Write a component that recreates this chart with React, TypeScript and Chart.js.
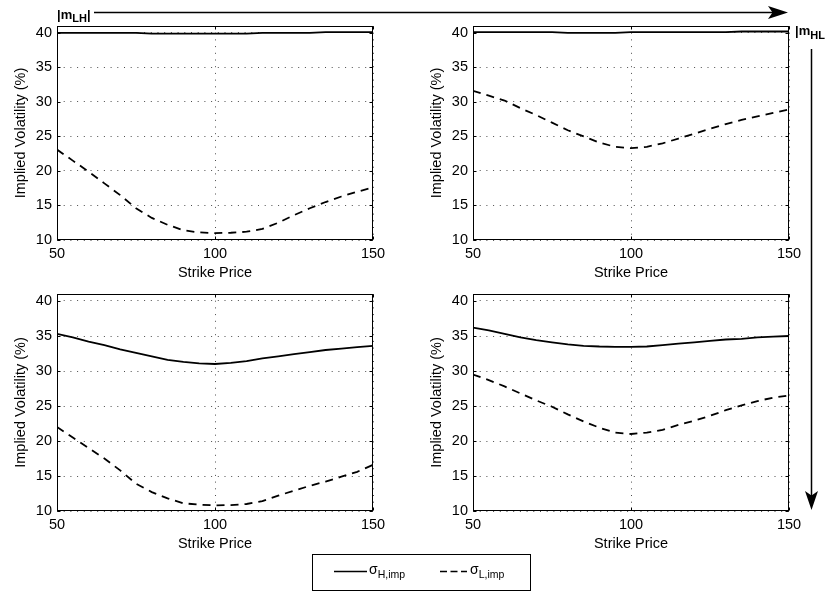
import React, { useEffect, useRef } from "react";
import { Chart, registerables } from "chart.js";

Chart.register(...registerables);

// Strike grid shared by all four panels
const strikes = [50, 55, 60, 65, 70, 75, 80, 85, 90, 95, 100, 105, 110, 115, 120, 125, 130, 135, 140, 145, 150];

// Tick labels
const xTicks = [50, 100, 150];
const yTicks = [10, 15, 20, 25, 30, 35, 40];

// Panel (1,1)
const highTL = [40.0, 40.0, 40.0, 40.0, 40.0, 40.0, 39.9, 39.9, 39.9, 39.9, 39.9, 39.9, 39.9, 40.0, 40.0, 40.0, 40.0, 40.1, 40.1, 40.1, 40.1];
const lowTL = [23.1, 21.5, 19.9, 18.2, 16.5, 14.6, 13.2, 12.2, 11.4, 11.1, 11.0, 11.05, 11.2, 11.6, 12.5, 13.6, 14.6, 15.5, 16.3, 17.0, 17.6];

// Panel (1,2)
const highTR = [40.1, 40.1, 40.1, 40.1, 40.1, 40.1, 40.0, 40.0, 40.0, 40.0, 40.1, 40.1, 40.1, 40.1, 40.1, 40.1, 40.1, 40.2, 40.2, 40.2, 40.2];
const lowTR = [31.6, 30.9, 30.2, 29.1, 28.1, 27.0, 25.9, 25.0, 24.1, 23.5, 23.3, 23.5, 24.0, 24.7, 25.4, 26.1, 26.8, 27.4, 27.9, 28.4, 28.9];

// Panel (2,1)
const highBL = [35.3, 34.8, 34.2, 33.7, 33.1, 32.6, 32.1, 31.6, 31.3, 31.1, 31.0, 31.15, 31.4, 31.8, 32.1, 32.4, 32.7, 33.0, 33.2, 33.4, 33.6];
const lowBL = [22.0, 20.5, 19.0, 17.5, 15.8, 13.9, 12.7, 11.8, 11.1, 10.9, 10.8, 10.85, 11.0, 11.4, 12.2, 12.9, 13.6, 14.2, 14.9, 15.6, 16.6];

// Panel (2,2)
const highBR = [36.2, 35.8, 35.3, 34.8, 34.4, 34.1, 33.8, 33.6, 33.5, 33.45, 33.45, 33.5, 33.7, 33.9, 34.1, 34.3, 34.5, 34.6, 34.8, 34.9, 35.0];
const lowBR = [29.5, 28.7, 27.8, 26.8, 25.8, 24.9, 23.8, 22.8, 21.9, 21.2, 21.0, 21.2, 21.6, 22.3, 22.9, 23.6, 24.4, 25.1, 25.7, 26.2, 26.5];

const FONT_FAMILY = "'Liberation Sans', Arial, Helvetica, sans-serif";
const Y_AXIS_W = 57;
const PLOT_W = 316;
const PAD_R = 18;
const PAD_T = 14;
const X_AXIS_H = 46;

// Box around the axes plus short inward tick marks on all four sides
const framePlugin = {
  id: "frame",
  afterDraw(chart: any) {
    const { ctx, chartArea: a, scales } = chart;
    const l = Math.round(a.left) + 0.5;
    const r = Math.round(a.right) - 0.5;
    const t = Math.round(a.top) + 0.5;
    const b = Math.round(a.bottom) - 0.5;
    ctx.save();
    ctx.strokeStyle = "#000";
    ctx.lineWidth = 1;
    ctx.setLineDash([]);
    ctx.strokeRect(l, t, r - l, b - t);
    ctx.beginPath();
    const tl = 3;
    for (const v of yTicks) {
      const py = Math.round(scales.y.getPixelForValue(v)) + 0.5;
      ctx.moveTo(l, py);
      ctx.lineTo(l + tl, py);
      ctx.moveTo(r, py);
      ctx.lineTo(r - tl, py);
    }
    for (const v of xTicks) {
      const px = Math.round(scales.x.getPixelForValue(v)) + 0.5;
      ctx.moveTo(px, b);
      ctx.lineTo(px, b - tl);
      ctx.moveTo(px, t);
      ctx.lineTo(px, t + tl);
    }
    ctx.stroke();
    ctx.restore();
  },
};

type PanelProps = { left: number; top: number; plotH: number; high: number[]; low: number[] };

function Panel({ left, top, plotH, high, low }: PanelProps) {
  const ref = useRef<HTMLCanvasElement>(null);
  const width = Y_AXIS_W + PLOT_W + PAD_R;
  const height = PAD_T + plotH + X_AXIS_H;

  useEffect(() => {
    const tickFont = { family: FONT_FAMILY, size: 14.5 };
    const gridColor = "rgba(0,0,0,0.7)";
    const chart = new Chart(ref.current as HTMLCanvasElement, {
      type: "line",
      data: {
        datasets: [
          {
            data: strikes.map((x, i) => ({ x, y: high[i] })),
            borderColor: "#000",
            borderWidth: 1.8,
            pointRadius: 0,
            tension: 0,
          },
          {
            data: strikes.map((x, i) => ({ x, y: low[i] })),
            borderColor: "#000",
            borderWidth: 1.8,
            borderDash: [8, 6],
            pointRadius: 0,
            tension: 0,
          },
        ],
      },
      options: {
        responsive: false,
        animation: false,
        devicePixelRatio: 1,
        events: [],
        layout: { padding: { left: 0, top: PAD_T, right: PAD_R, bottom: 0 } },
        plugins: { legend: { display: false }, tooltip: { enabled: false } },
        scales: {
          x: {
            type: "linear",
            min: 50,
            max: 150,
            afterFit: (s: any) => {
              s.height = X_AXIS_H;
            },
            afterBuildTicks: (s: any) => {
              s.ticks = xTicks.map((v) => ({ value: v }));
            },
            ticks: { font: tickFont, color: "#000", padding: 5, maxRotation: 0, autoSkip: false },
            grid: { color: gridColor, lineWidth: 1, drawTicks: false },
            border: { display: false, dash: [1, 5.7] },
            title: {
              display: true,
              text: "Strike Price",
              font: tickFont,
              color: "#000",
              padding: { top: 0, bottom: 4 },
            },
          },
          y: {
            type: "linear",
            min: 10,
            max: 41,
            afterFit: (s: any) => {
              s.width = Y_AXIS_W;
            },
            afterBuildTicks: (s: any) => {
              s.ticks = yTicks.map((v) => ({ value: v }));
            },
            ticks: { font: tickFont, color: "#000", padding: 5, autoSkip: false },
            grid: { color: gridColor, lineWidth: 1, drawTicks: false },
            border: { display: false, dash: [1, 5.7] },
            title: {
              display: true,
              text: "Implied Volatility (%)",
              font: tickFont,
              color: "#000",
              padding: { top: 12, bottom: 0 },
            },
          },
        },
      } as any,
      plugins: [framePlugin],
    });
    return () => chart.destroy();
  }, []);

  return (
    <canvas
      ref={ref}
      width={width}
      height={height}
      style={{ position: "absolute", left, top, width, height }}
    />
  );
}

export default function App() {
  const ff = FONT_FAMILY;
  return (
    <div
      style={{
        position: "absolute",
        left: 0,
        top: 0,
        width: 825,
        height: 594,
        background: "#fff",
        overflow: "hidden",
      }}
    >
      <Panel left={0} top={26 - PAD_T} plotH={214} high={highTL} low={lowTL} />
      <Panel left={416} top={26 - PAD_T} plotH={214} high={highTR} low={lowTR} />
      <Panel left={0} top={294 - PAD_T} plotH={217} high={highBL} low={lowBL} />
      <Panel left={416} top={294 - PAD_T} plotH={217} high={highBR} low={lowBR} />

      <svg
        width={825}
        height={594}
        style={{ position: "absolute", left: 0, top: 0, pointerEvents: "none" }}
      >
        {/* horizontal direction marker */}
        <text x={57} y={18.5} fontFamily={ff} fontWeight="bold" fontSize={13}>
          |m
          <tspan fontSize={11} dy={3.5}>LH</tspan>
          <tspan fontSize={13} dy={-3.5}>|</tspan>
        </text>
        <line x1={94} y1={12.5} x2={775} y2={12.5} stroke="#000" strokeWidth={1.5} />
        <path d="M788,12.5 L768,6 L772.5,12.5 L768,19 Z" fill="#000" />

        {/* vertical direction marker */}
        <text x={795} y={35} fontFamily={ff} fontWeight="bold" fontSize={13}>
          |m
          <tspan fontSize={11} dy={4}>HL</tspan>
        </text>
        <line x1={811.5} y1={49} x2={811.5} y2={498} stroke="#000" strokeWidth={1.5} />
        <path d="M811.5,510 L805,491 L811.5,495.5 L818,491 Z" fill="#000" />

        {/* legend */}
        <rect x={312.5} y={554.5} width={218} height={36} fill="#fff" stroke="#000" strokeWidth={1} />
        <line x1={334} y1={571.5} x2={367} y2={571.5} stroke="#000" strokeWidth={1.6} />
        <text x={369} y={574} fontFamily={ff} fontSize={14}>
          σ<tspan fontSize={10.5} dy={4}>H,imp</tspan>
        </text>
        <line
          x1={440}
          y1={571.5}
          x2={467}
          y2={571.5}
          stroke="#000"
          strokeWidth={1.6}
          strokeDasharray="7 3.5"
        />
        <text x={470} y={574} fontFamily={ff} fontSize={14}>
          σ<tspan fontSize={10.5} dy={4}>L,imp</tspan>
        </text>
      </svg>
    </div>
  );
}
